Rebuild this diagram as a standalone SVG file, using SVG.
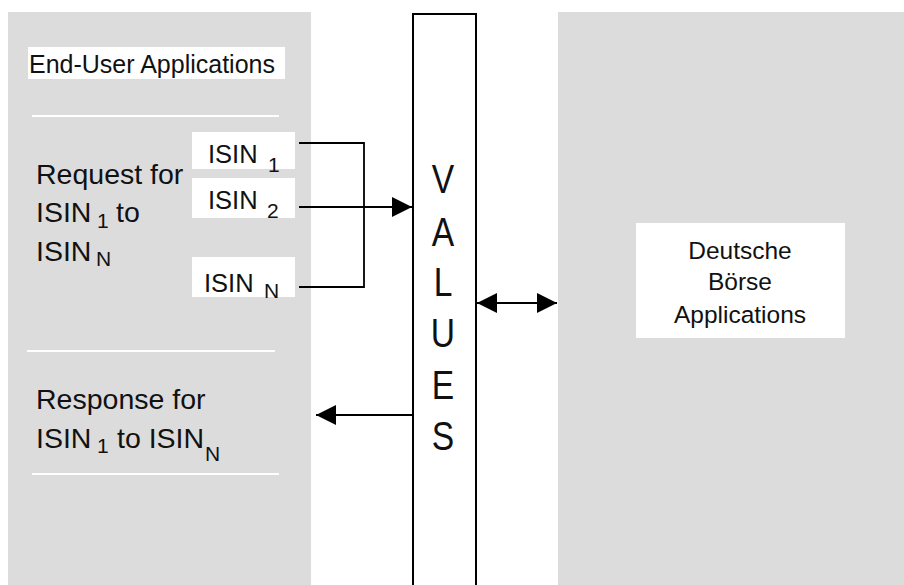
<svg xmlns="http://www.w3.org/2000/svg" width="904" height="585" viewBox="0 0 904 585">
<style>
  text { font-family: "Liberation Sans", Arial, sans-serif; fill: #111; }
  .panel { fill: #dcdcdc; }
  .wbox { fill: #ffffff; }
  .sep { stroke: #ffffff; stroke-width: 2; }
  .conn { stroke: #000; stroke-width: 1.8; fill: none; }
  .big { font-size: 28.5px; }
  .sub { font-size: 21px; }
  .lbl { font-size: 25.5px; }
  .lsub { font-size: 21px; }
  .db { font-size: 24.5px; text-anchor: middle; }
  .val { font-size: 41px; text-anchor: middle; }
</style>
<defs>
  <marker id="ah" markerUnits="userSpaceOnUse" markerWidth="20" markerHeight="20" refX="20" refY="10" orient="auto-start-reverse">
    <path d="M0,0 L20,10 L0,20 z" fill="#000"/>
  </marker>
</defs>
<rect width="904" height="585" fill="#ffffff"/>

<g id="end-user-panel">
  <rect class="panel" x="8" y="12" width="303" height="573"/>
  <rect class="wbox" x="28" y="47" width="257" height="32"/>
  <text x="29" y="73" style="font-size:25px">End-User Applications</text>
  <line class="sep" x1="32" y1="116" x2="279" y2="116"/>
  <line class="sep" x1="27" y1="351" x2="275" y2="351"/>
  <line class="sep" x1="32" y1="474" x2="279" y2="474"/>
</g>

<g id="request-text">
  <text class="big" x="36" y="184">Request for</text>
  <text class="big" x="36" y="222">ISIN<tspan class="sub" x="97" y="228">1</tspan><tspan x="116" y="222">to</tspan></text>
  <text class="big" x="36" y="261">ISIN<tspan class="sub" x="96" y="266">N</tspan></text>
</g>

<g id="isin1">
  <rect class="wbox" x="192" y="132" width="103" height="37"/>
  <text class="lbl" x="208" y="163">ISIN<tspan class="lsub" x="268" y="171.5">1</tspan></text>
</g>
<g id="isin2">
  <rect class="wbox" x="192" y="178" width="103" height="40"/>
  <text class="lbl" x="208" y="209">ISIN<tspan class="lsub" x="267" y="218">2</tspan></text>
</g>
<g id="isinN">
  <rect class="wbox" x="192" y="257" width="103" height="40"/>
  <text class="lbl" x="204" y="292">ISIN<tspan class="lsub" x="264" y="298">N</tspan></text>
</g>

<g id="response-text">
  <text class="big" x="36" y="409">Response for</text>
  <text class="big" x="36" y="448">ISIN<tspan class="sub" x="97" y="453">1</tspan><tspan x="117" y="448">to ISIN</tspan><tspan class="sub" x="205" y="461">N</tspan></text>
</g>

<g id="values">
  <rect x="413" y="14" width="63" height="590" fill="#ffffff" stroke="#000" stroke-width="2"/>
  <g transform="translate(443 0) scale(0.82 1)">
    <text class="val" x="0" y="193">V</text>
    <text class="val" x="0" y="246">A</text>
    <text class="val" x="0" y="296">L</text>
    <text class="val" x="0" y="347">U</text>
    <text class="val" x="0" y="399">E</text>
    <text class="val" x="0" y="450">S</text>
  </g>
</g>

<g id="deutsche-boerse-panel">
  <rect class="panel" x="558" y="12" width="346" height="573"/>
  <rect class="wbox" x="636" y="223" width="209" height="115"/>
  <text class="db" x="740" y="259">Deutsche</text>
  <text class="db" x="740" y="290">Börse</text>
  <text class="db" x="740" y="323">Applications</text>
</g>

<g id="connectors">
  <polyline class="conn" points="299,143 364,143 364,287 299,287"/>
  <line class="conn" x1="299" y1="207" x2="412" y2="207" marker-end="url(#ah)"/>
  <line class="conn" x1="477" y1="303" x2="557" y2="303" marker-start="url(#ah)" marker-end="url(#ah)"/>
  <line class="conn" x1="412" y1="415" x2="316" y2="415" marker-end="url(#ah)"/>
</g>
</svg>
